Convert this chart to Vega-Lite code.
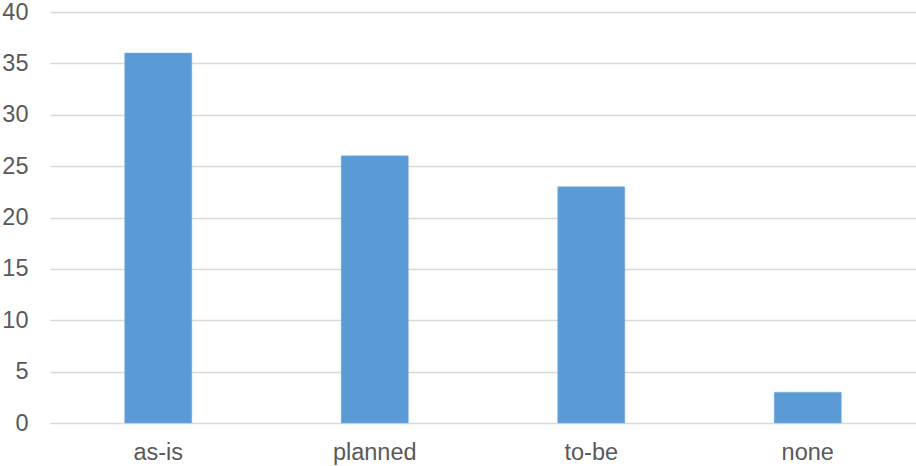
{
  "$schema": "https://vega.github.io/schema/vega-lite/v6.json",
  "width": 866,
  "height": 411,
  "autosize": {"type": "none"},
  "padding": {"left": 50, "top": 12, "right": 0, "bottom": 43},
  "background": "white",
  "data": {"values": [
    {"category": "as-is", "value": 36},
    {"category": "planned", "value": 26},
    {"category": "to-be", "value": 23},
    {"category": "none", "value": 3}
  ]},
  "mark": {"type": "bar", "color": "#5B9BD5", "stroke": "#7FB0E0", "strokeWidth": 0.5},
  "encoding": {
    "x": {
      "field": "category", "type": "nominal", "sort": null,
      "scale": {"paddingInner": 0.69, "paddingOuter": 0.345},
      "axis": {"title": null, "labelAngle": 0, "labelFont": "Liberation Sans", "labelFontSize": 23.5, "labelColor": "#595959", "labelPadding": 17, "ticks": false, "domain": false, "grid": false}
    },
    "y": {
      "field": "value", "type": "quantitative",
      "scale": {"domain": [0, 40]},
      "axis": {"title": null, "values": [0,5,10,15,20,25,30,35,40], "labelFont": "Liberation Sans", "labelFontSize": 23.5, "labelColor": "#595959", "labelPadding": 22, "ticks": false, "domain": false, "gridColor": "#D9D9D9", "gridWidth": 1.5}
    }
  },
  "config": {"view": {"stroke": null}}
}
